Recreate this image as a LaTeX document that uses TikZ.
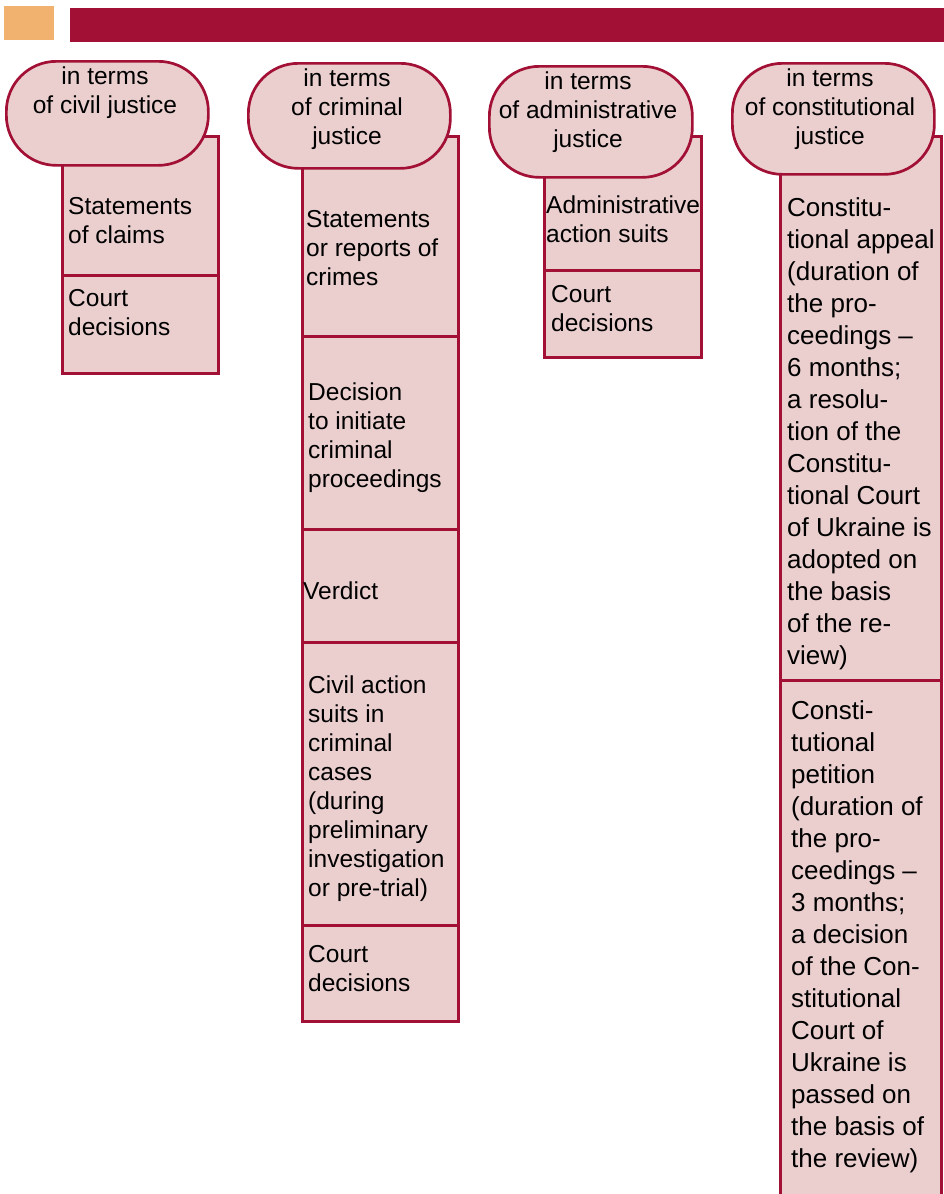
\documentclass[tikz,border=0pt]{standalone}
\usepackage{fontspec}
\setmainfont{Liberation Sans}
\definecolor{crim}{HTML}{A31035}
\definecolor{pinkf}{HTML}{EBCFCF}
\definecolor{orng}{HTML}{F0B26E}
\begin{document}
\begin{tikzpicture}[x=1pt,y=-1pt,
  cell/.style={draw=crim, fill=pinkf, line width=2.7pt, rectangle, inner sep=0pt, anchor=north west},
  pill/.style={draw=crim, fill=pinkf, line width=2.7pt, rectangle, rounded corners=50pt, inner sep=0pt, anchor=north west},
  txt/.style={font=\fontsize{24.5}{29}\selectfont, align=left, inner sep=0pt, anchor=north west, execute at begin node={\rule{0pt}{20pt}}},
  bigtxt/.style={txt, font=\fontsize{26}{32}\selectfont},
  ptxt/.style={font=\fontsize{24.5}{29}\selectfont, align=center, inner sep=0pt, anchor=north, execute at begin node={\rule{0pt}{20pt}}}
]
\useasboundingbox (0,0) rectangle (944,1194);
\clip (0,0) rectangle (944,1194);
\fill[white] (0,0) rectangle (944,1194);
% header
\node[fill=orng, inner sep=0pt, minimum width=50pt, minimum height=34pt, anchor=north west] (sq) at (4,6) {};
\node[fill=crim, inner sep=0pt, minimum width=880pt, minimum height=34pt, anchor=north west] (bar) at (70,8) {};
% column 1: civil
\node[cell, minimum width=156pt, minimum height=139pt] (c1a) at (61,135) {};
\node[cell, minimum width=156pt, minimum height=98pt] (c1b) at (61,274) {};
% column 2: criminal
\node[cell, minimum width=156pt, minimum height=200pt] (c2a) at (301,135) {};
\node[cell, minimum width=156pt, minimum height=193pt] (c2b) at (301,335) {};
\node[cell, minimum width=156pt, minimum height=113pt] (c2c) at (301,528) {};
\node[cell, minimum width=156pt, minimum height=283pt] (c2d) at (301,641) {};
\node[cell, minimum width=156pt, minimum height=96pt] (c2e) at (301,924) {};
% column 3: administrative
\node[cell, minimum width=157pt, minimum height=134pt] (c3a) at (543,135) {};
\node[cell, minimum width=157pt, minimum height=87pt] (c3b) at (543,269) {};
% column 4: constitutional
\node[cell, minimum width=161pt, minimum height=544pt] (c4a) at (779,135) {};
\node[cell, minimum width=161pt, minimum height=540pt] (c4b) at (779,679) {};
% pills
\node[pill, minimum width=202pt, minimum height=104pt] (p1) at (5,60) {};
\node[pill, minimum width=202pt, minimum height=105pt] (p2) at (247,62) {};
\node[pill, minimum width=203pt, minimum height=111pt] (p3) at (488,65) {};
\node[pill, minimum width=202pt, minimum height=111pt] (p4) at (731,62) {};
% pill texts
\node[ptxt] (t1) at (105,67) {in terms\\of civil justice};
\node[ptxt] (t2) at (347,69) {in terms\\of criminal\\justice};
\node[ptxt] (t3) at (588,72) {in terms\\of administrative\\justice};
\node[ptxt] (t4) at (830,69) {in terms\\of constitutional\\justice};
% cell texts
\node[txt] (x1a) at (68,197) {Statements\\of claims};
\node[txt] (x1b) at (68,289) {Court\\decisions};
\node[txt] (x2a) at (306,210) {Statements\\or reports of\\crimes};
\node[txt] (x2b) at (308,383) {Decision\\to initiate\\criminal\\proceedings};
\node[txt] (x2c) at (303,579) {Verdict};
\node[txt] (x2d) at (308,676) {Civil action\\suits in\\criminal\\cases\\(during\\preliminary\\investigation\\or pre-trial)};
\node[txt] (x2e) at (308,945) {Court\\decisions};
\node[txt] (x3a) at (546,196) {Administrative\\action suits};
\node[txt] (x3b) at (551,285) {Court\\decisions};
\node[bigtxt] (x4a) at (787,197) {Constitu-\\tional appeal\\(duration of\\the pro-\\ceedings –\\6 months;\\a resolu-\\tion of the\\Constitu-\\tional Court\\of Ukraine is\\adopted on\\the basis\\of the re-\\view)};
\node[bigtxt] (x4b) at (791,700) {Consti-\\tutional\\petition\\(duration of\\the pro-\\ceedings –\\3 months;\\a decision\\of the Con-\\stitutional\\Court of\\Ukraine is\\passed on\\the basis of\\the review)};
\end{tikzpicture}
\end{document}
